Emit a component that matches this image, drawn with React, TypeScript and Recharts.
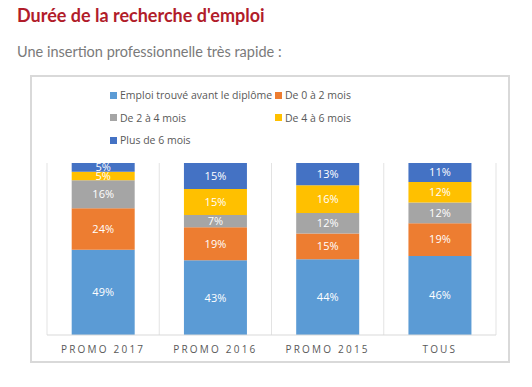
import React from "react";
import {
  BarChart,
  Bar,
  XAxis,
  YAxis,
  CartesianGrid,
  LabelList,
} from "recharts";

const promos = ["PROMO 2017", "PROMO 2016", "PROMO 2015", "TOUS"];
const avantDiplome = [49, 43, 44, 46];
const de0a2 = [24, 19, 15, 19];
const de2a4 = [16, 7, 12, 12];
const de4a6 = [5, 15, 16, 12];
const plusDe6 = [5, 15, 13, 11];

const series = [
  { key: "avant", name: "Emploi trouvé avant le diplôme", color: "#5B9BD5", values: avantDiplome },
  { key: "d02", name: "De 0 à 2 mois", color: "#ED7D31", values: de0a2 },
  { key: "d24", name: "De 2 à 4 mois", color: "#A5A5A5", values: de2a4 },
  { key: "d46", name: "De 4 à 6 mois", color: "#FFC000", values: de4a6 },
  { key: "p6", name: "Plus de 6 mois", color: "#4472C4", values: plusDe6 },
];

const data = promos.map((promo, i) => {
  const row: Record<string, string | number> = { promo };
  series.forEach((s) => {
    row[s.key] = s.values[i];
  });
  return row;
});

const font = "'Open Sans', sans-serif";

const LegendBox = () => (
  <div
    style={{
      position: "absolute",
      left: 110,
      top: 88,
      display: "grid",
      gridTemplateColumns: "165px 150px",
      rowGap: 8.5,
      fontFamily: font,
      fontSize: 10.5,
      color: "#595959",
    }}
  >
    {series.map((s) => (
      <div
        key={s.key}
        style={{ display: "flex", alignItems: "center", height: 14, whiteSpace: "nowrap", overflow: "visible", minWidth: 0 }}
      >
        <span style={{ width: 7, height: 7, background: s.color, marginRight: 3, flexShrink: 0 }} />
        {s.name}
      </div>
    ))}
  </div>
);

const App = () => {
  return (
    <div
      style={{
        position: "absolute",
        left: 0,
        top: 0,
        width: 532,
        height: 387,
        background: "#fff",
        overflow: "hidden",
      }}
    >
      <div
        style={{
          position: "absolute",
          left: 17,
          top: 4,
          fontFamily: "Lato, sans-serif",
          fontWeight: 700,
          fontSize: 18,
          color: "#B11C2A",
        }}
      >
        Durée de la recherche d'emploi
      </div>
      <div
        style={{
          position: "absolute",
          left: 17,
          top: 43,
          fontFamily: "Lato, sans-serif",
          fontSize: 14.5,
          color: "#7a7a7a",
        }}
      >
        Une insertion professionnelle très rapide :
      </div>
      <div
        style={{
          position: "absolute",
          left: 30,
          top: 75,
          width: 476,
          height: 284,
          border: "2px solid #d9d9d9",
        }}
      />
      <LegendBox />
      <div style={{ position: "absolute", left: 0, top: 0 }}>
        <BarChart
          width={532}
          height={387}
          data={data}
          stackOffset="expand"
          margin={{ top: 163, right: 36, bottom: 22, left: 47 }}
          barCategoryGap="22%"
        >
          <CartesianGrid
            horizontal={false}
            stroke="#e3e3e3"
            verticalCoordinatesGenerator={({ offset }) =>
              promos.map((_, i) => offset.left + (i * offset.width) / promos.length).concat(offset.left + offset.width)
            }
          />
          <XAxis
            dataKey="promo"
            axisLine={{ stroke: "#d9d9d9" }}
            tickLine={false}
            interval={0}
            tick={{ fill: "#595959", fontSize: 10, fontFamily: font, letterSpacing: 2.2 }}
            tickMargin={5}
          />
          <YAxis hide domain={[0, 1]} />
          {series.map((s) => (
            <Bar key={s.key} dataKey={s.key} name={s.name} stackId="a" fill={s.color} isAnimationActive={false}>
              <LabelList
                dataKey={s.key}
                position="center"
                fill="#fff"
                fontSize={11}
                fontFamily={font}
                formatter={(v: number) => `${v}%`}
              />
            </Bar>
          ))}
        </BarChart>
      </div>
    </div>
  );
};

export default App;
